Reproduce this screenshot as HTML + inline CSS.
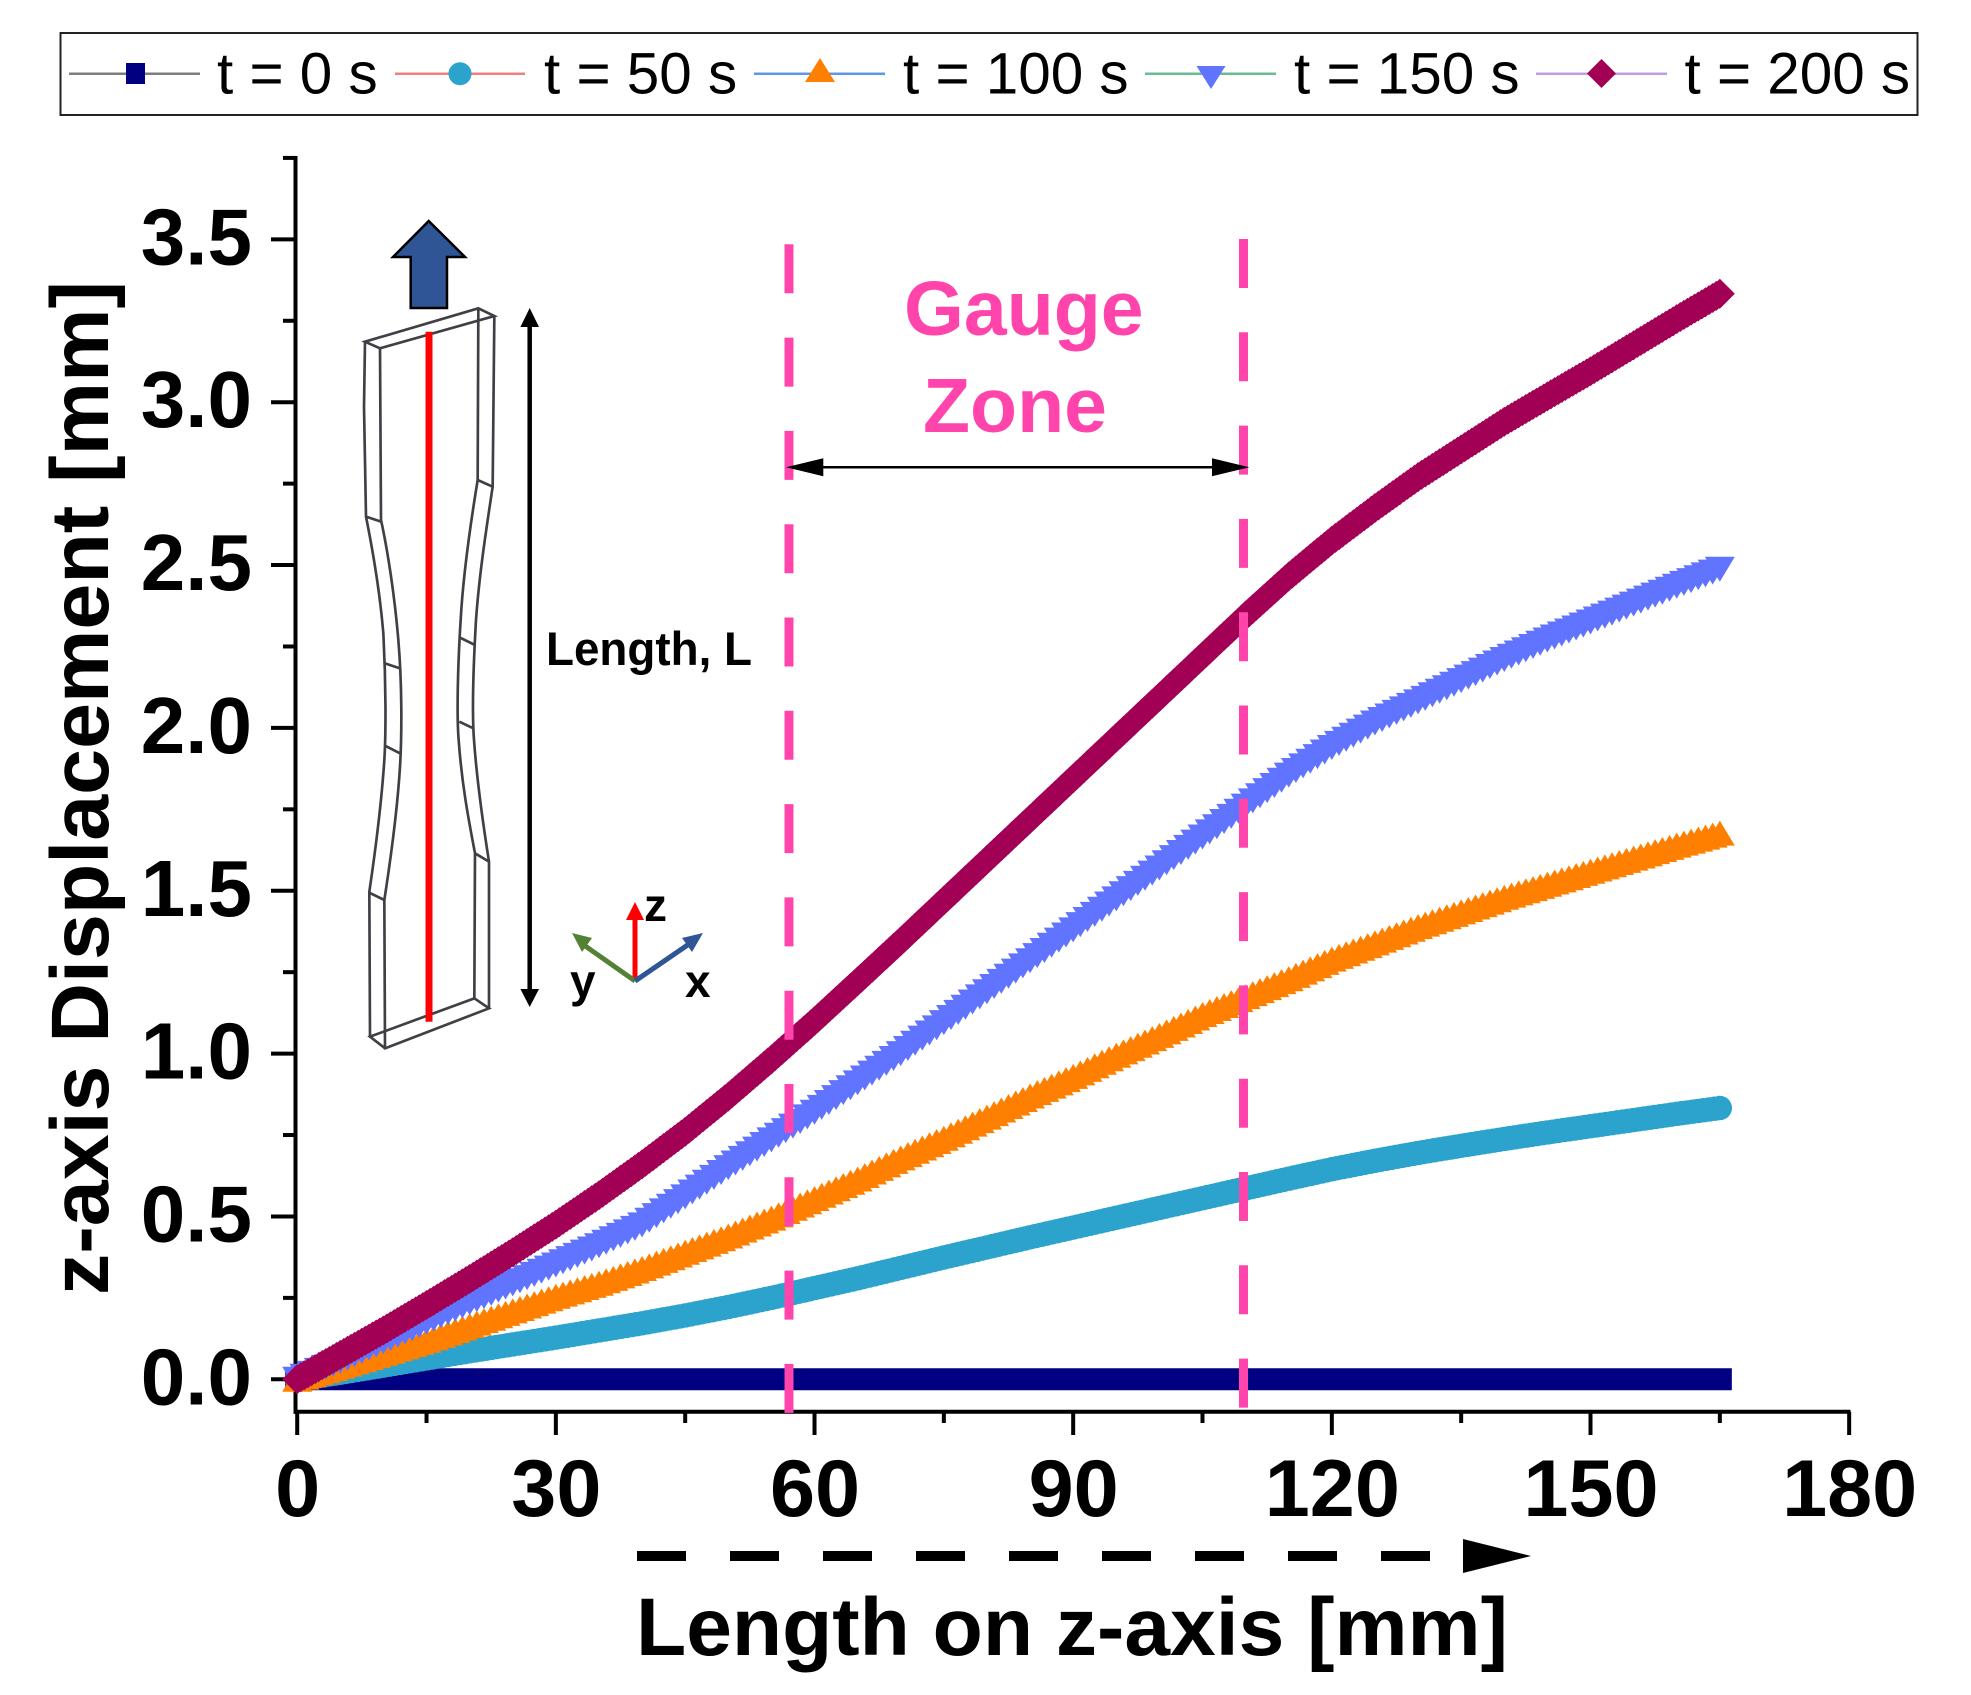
<!DOCTYPE html>
<html lang="en">
<head>
<meta charset="utf-8">
<title>z-axis displacement along specimen length</title>
<style>
html,body{margin:0;padding:0;background:#fff;width:1971px;height:1695px;overflow:hidden}
svg{display:block;font-family:"Liberation Sans",Arial,sans-serif}
text{fill:#000}
</style>
</head>
<body>
<svg id="chart" xmlns="http://www.w3.org/2000/svg" width="1971" height="1695" viewBox="0 0 1971 1695">
  <rect x="0" y="0" width="1971" height="1695" fill="#fff"/>

  <g>
    <rect x="60.5" y="33" width="1857" height="82" fill="#fff" stroke="#222" stroke-width="2"/>
    <g>
      <line x1="69" y1="73.7" x2="200" y2="73.7" stroke="#7f7f7f" stroke-width="2.5"/>
      <rect x="126" y="63" width="19" height="21" fill="#000080"/>
      <text x="217" y="93.5" font-size="58.4">t = 0 s</text>
    </g>
    <g>
      <line x1="395" y1="73.7" x2="525" y2="73.7" stroke="#f07f7f" stroke-width="2.5"/>
      <circle cx="460" cy="73.7" r="11.5" fill="#2ca3cc"/>
      <text x="544" y="93.5" font-size="58.4">t = 50 s</text>
    </g>
    <g>
      <line x1="754" y1="73.7" x2="885" y2="73.7" stroke="#5f98e8" stroke-width="2.5"/>
      <polygon points="820,58 835,82 805,82" fill="#ff8000"/>
      <text x="903" y="93.5" font-size="58.4">t = 100 s</text>
    </g>
    <g>
      <line x1="1145" y1="73.7" x2="1276" y2="73.7" stroke="#6dbb90" stroke-width="2.5"/>
      <polygon points="1196.500,66 1225.500,66 1211,89" fill="#6174ff"/>
      <text x="1294" y="93.5" font-size="58.4">t = 150 s</text>
    </g>
    <g>
      <line x1="1536" y1="73.7" x2="1667" y2="73.7" stroke="#c09fe0" stroke-width="2.5"/>
      <polygon points="1601.500,59 1616,73.500 1601.500,88 1587,73.500" fill="#a10055"/>
      <text x="1684.500" y="93.5" font-size="58.4">t = 200 s</text>
    </g>
  </g>

  <g id="axes"></g>
  <g id="series"></g>

  <text transform="translate(108,1295) rotate(-90)" font-size="82" font-weight="700" textLength="1014" lengthAdjust="spacingAndGlyphs">z-axis Displacement [mm]</text>
  <text x="636" y="1655" font-size="81.7" font-weight="700" textLength="872" lengthAdjust="spacingAndGlyphs">Length on z-axis [mm]</text>

  <g>
    <line x1="637" y1="1556" x2="1463" y2="1556" stroke="#000" stroke-width="10" stroke-dasharray="49 44"/>
    <polygon points="1463,1539 1531,1556 1463,1573" fill="#000"/>
  </g>

  <g>
    <polygon points="410.700,308 410.700,257 393,257 428.700,221 465,257 447,257 447,308" fill="#2f5597" stroke="#000" stroke-width="2.500" stroke-linejoin="miter"/>
    <g transform="translate(340,200) scale(0.33333)" fill="none" stroke="#3f3f46" stroke-width="8">
      <path d="M75,425 L415,325 L463,348 L120,445 Z"/>
      <path d="M75,425 L72,620 L78,950 C100,1060 120,1180 130,1300 C138,1450 138,1600 133,1680 C125,1800 105,1960 88,2075 L90,2510"/>
      <path d="M120,445 L123,960 C145,1060 165,1200 175,1320 C186,1450 186,1600 180,1700 C172,1830 150,1990 133,2100 L135,2545"/>
      <path d="M78,950 L123,965 M135,1390 L180,1405 M135,1637 L180,1660 M88,2078 L133,2100"/>
      <path d="M415,325 L413,840 C395,950 370,1110 362,1260 C353,1400 350,1550 356,1620 C366,1760 388,1870 405,1960 L403,2395"/>
      <path d="M463,348 L458,860 C440,980 418,1120 408,1260 C400,1400 395,1530 402,1620 C412,1760 432,1890 447,1985 L447,2425"/>
      <path d="M413,840 L458,860 M358,1312 L405,1335 M358,1565 L400,1585 M405,1960 L447,1985"/>
      <path d="M90,2510 L403,2395 L447,2425 L135,2545 Z"/>
    </g>
    <line x1="429" y1="331.700" x2="429" y2="1021.700" stroke="#ff0000" stroke-width="7"/>
    <line x1="529.700" y1="320" x2="529.700" y2="995" stroke="#000" stroke-width="4.500"/>
    <polygon points="529.700,308 539,327 520.400,327" fill="#000"/>
    <polygon points="529.700,1007 539,989 520.400,989" fill="#000"/>
    <text x="546" y="665" font-size="47" font-weight="700" textLength="206" lengthAdjust="spacingAndGlyphs">Length, L</text>
  </g>

  <g>
    <line x1="635" y1="981" x2="635" y2="915" stroke="#ff0000" stroke-width="5"/>
    <polygon points="635,902 644,920 626,920" fill="#ff0000"/>
    <line x1="635" y1="981" x2="581" y2="943" stroke="#548235" stroke-width="5"/>
    <polygon points="572,933 592,938 582,952" fill="#548235"/>
    <line x1="635" y1="981" x2="692" y2="942" stroke="#2f5597" stroke-width="5"/>
    <polygon points="703,933 692,952 682,938" fill="#2f5597"/>
    <text x="644" y="921" font-size="46" font-weight="700">z</text>
    <text x="570" y="997" font-size="46" font-weight="700">y</text>
    <text x="685" y="997" font-size="46" font-weight="700">x</text>
  </g>

  <g>
    <line x1="789" y1="244.300" x2="789" y2="1413" stroke="#ff45ac" stroke-width="9" stroke-dasharray="49 44.300"/>
    <line x1="1243.500" y1="239" x2="1243.500" y2="1408" stroke="#ff45ac" stroke-width="9" stroke-dasharray="49 44.300"/>
    <text x="904" y="335" font-size="77" font-weight="700" style="fill:#ff45ac">Gauge</text>
    <text x="923" y="432" font-size="77" font-weight="700" style="fill:#ff45ac">Zone</text>
    <line x1="815" y1="467.300" x2="1220" y2="467.300" stroke="#000" stroke-width="2.500"/>
    <polygon points="786,467.300 823.300,458.300 823.300,476.300" fill="#000"/>
    <polygon points="1249.300,467.300 1212,458.300 1212,476.300" fill="#000"/>
  </g>
</svg>

<script>
// Chart data
const lengthMm = [0,5,10,15,20,25,30,35,40,45,50,55,60,65,70,75,80,85,90,95,100,105,110,115,120,125,130,135,140,145,150,155,160,165];
const dispT0 = [0,0,0,0,0,0,0,0,0,0,0,0,0,0,0,0,0,0,0,0,0,0,0,0,0,0,0,0,0,0,0,0,0,0];
const dispT50 = [0,0.02,0.042,0.064,0.086,0.107,0.128,0.15,0.172,0.196,0.222,0.25,0.28,0.31,0.342,0.374,0.405,0.436,0.466,0.496,0.526,0.556,0.586,0.616,0.645,0.671,0.695,0.717,0.738,0.758,0.777,0.796,0.815,0.833];
const dispT100 = [0,0.04,0.08,0.12,0.165,0.21,0.255,0.295,0.34,0.39,0.44,0.495,0.555,0.615,0.68,0.74,0.805,0.87,0.93,0.995,1.056,1.12,1.175,1.23,1.29,1.34,1.39,1.435,1.48,1.52,1.56,1.6,1.64,1.677];
const dispT150 = [0,0.055,0.115,0.175,0.235,0.293,0.351,0.41,0.474,0.56,0.65,0.735,0.82,0.91,1.0,1.095,1.19,1.285,1.38,1.475,1.57,1.665,1.76,1.855,1.94,2.015,2.08,2.145,2.21,2.27,2.325,2.38,2.435,2.487];
const dispT200 = [0,0.075,0.15,0.228,0.308,0.39,0.475,0.565,0.66,0.76,0.868,0.982,1.1,1.222,1.345,1.47,1.595,1.72,1.845,1.97,2.095,2.22,2.345,2.465,2.575,2.675,2.77,2.855,2.94,3.018,3.095,3.175,3.255,3.333];
const xTickLabels = ["0","30","60","90","120","150","180"];
const yTickLabels = ["0.0","0.5","1.0","1.5","2.0","2.5","3.0","3.5"];

// Axis functions
function xScale(v){ return 297.2 + v * 8.622; }
function yScale(v){ return 1379.3 - v * 325.7; }

const NS = 'http://www.w3.org/2000/svg';
const axes = document.getElementById('axes');
const seriesLayer = document.getElementById('series');

function tickLine(x1, y1, x2, y2){
  const l = document.createElementNS(NS, 'line');
  l.setAttribute('x1', x1);
  l.setAttribute('y1', y1);
  l.setAttribute('x2', x2);
  l.setAttribute('y2', y2);
  l.setAttribute('stroke', '#000');
  l.setAttribute('stroke-width', '4');
  return l;
}

// Axis lines
const yAxisLine = tickLine(295.5, 156, 295.5, 1413.7);


axes.appendChild(yAxisLine);
const xAxisLine = tickLine(293.5, 1411.7, 1850.5, 1411.7);


axes.appendChild(xAxisLine);

// Major and minor ticks, labels
xTickLabels.forEach(function(label, i){
  const v = Number(label);
  const major = tickLine(xScale(v), 1411.7, xScale(v), 1435);
  
  
  axes.appendChild(major);
  const t = document.createElementNS(NS, 'text');
  
  
  t.setAttribute('x', xScale(v) + 0.5);
  t.setAttribute('y', 1516);
  t.setAttribute('font-size', '81');
  t.setAttribute('font-weight', '700');
  t.setAttribute('text-anchor', 'middle');
  t.textContent = label;
  axes.appendChild(t);
  if (i < xTickLabels.length - 1) {
    const next = Number(xTickLabels[i + 1]);
    const minor = tickLine(xScale((v + next) / 2), 1411.7, xScale((v + next) / 2), 1423);
    
    
    axes.appendChild(minor);
  }
});
yTickLabels.forEach(function(label){
  const v = Number(label);
  const major = tickLine(271, yScale(v), 295.5, yScale(v));
  
  
  axes.appendChild(major);
  const t = document.createElementNS(NS, 'text');
  
  
  t.setAttribute('x', 252);
  t.setAttribute('y', yScale(v) + 25);
  t.setAttribute('font-size', '80');
  t.setAttribute('font-weight', '700');
  t.setAttribute('text-anchor', 'end');
  t.textContent = label;
  axes.appendChild(t);
  const minor = tickLine(283, yScale(v + 0.25), 295.5, yScale(v + 0.25));
  
  
  axes.appendChild(minor);
});

// Marker outlines, relative to a data point
function squareMark(x, y){ return 'M' + (x-12) + ' ' + (y-11) + 'h24v22h-24z'; }
function circleMark(x, y){ return 'M' + (x-12.2) + ' ' + y + 'a12.2 12.2 0 1 0 24.4 0a12.2 12.2 0 1 0 -24.4 0z'; }
function upMark(x, y){ return 'M' + x + ' ' + (y-12.5) + 'L' + (x+15) + ' ' + (y+12.5) + 'L' + (x-15) + ' ' + (y+12.5) + 'z'; }
function downMark(x, y){ return 'M' + (x-15) + ' ' + (y-12.5) + 'L' + (x+15) + ' ' + (y-12.5) + 'L' + x + ' ' + (y+12.5) + 'z'; }
function diamondMark(x, y){ return 'M' + x + ' ' + (y-15) + 'L' + (x+15) + ' ' + y + 'L' + x + ' ' + (y+15) + 'L' + (x-15) + ' ' + y + 'z'; }

// Dense markers fuse into a band along each series line
function markerPath(values, mark, steps){
  let d = '';
  for (let i = 0; i < lengthMm.length - 1; i++) {
    const x0 = xScale(lengthMm[i]), y0 = yScale(values[i]);
    const x1 = xScale(lengthMm[i + 1]), y1 = yScale(values[i + 1]);
    for (let s = 0; s < steps; s++) {
      const f = s / steps;
      d += mark(+(x0 + (x1 - x0) * f).toFixed(2), +(y0 + (y1 - y0) * f).toFixed(2));
    }
  }
  const last = lengthMm.length - 1;
  d += mark(+xScale(lengthMm[last]).toFixed(2), +yScale(values[last]).toFixed(2));
  return d;
}

const pathT0 = document.createElementNS(NS, 'path');


pathT0.setAttribute('fill', '#000080');
pathT0.setAttribute('d', markerPath(dispT0, squareMark, 4));
seriesLayer.appendChild(pathT0);

const pathT50 = document.createElementNS(NS, 'path');


pathT50.setAttribute('fill', '#2ca3cc');
pathT50.setAttribute('d', markerPath(dispT50, circleMark, 8));
seriesLayer.appendChild(pathT50);

const pathT100 = document.createElementNS(NS, 'path');


pathT100.setAttribute('fill', '#ff8000');
pathT100.setAttribute('d', markerPath(dispT100, upMark, 6));
seriesLayer.appendChild(pathT100);

const pathT150 = document.createElementNS(NS, 'path');


pathT150.setAttribute('fill', '#6174ff');
pathT150.setAttribute('d', markerPath(dispT150, downMark, 6));
seriesLayer.appendChild(pathT150);

const pathT200 = document.createElementNS(NS, 'path');


pathT200.setAttribute('fill', '#a10055');
pathT200.setAttribute('d', markerPath(dispT200, diamondMark, 12));
seriesLayer.appendChild(pathT200);
</script>
</body>
</html>
